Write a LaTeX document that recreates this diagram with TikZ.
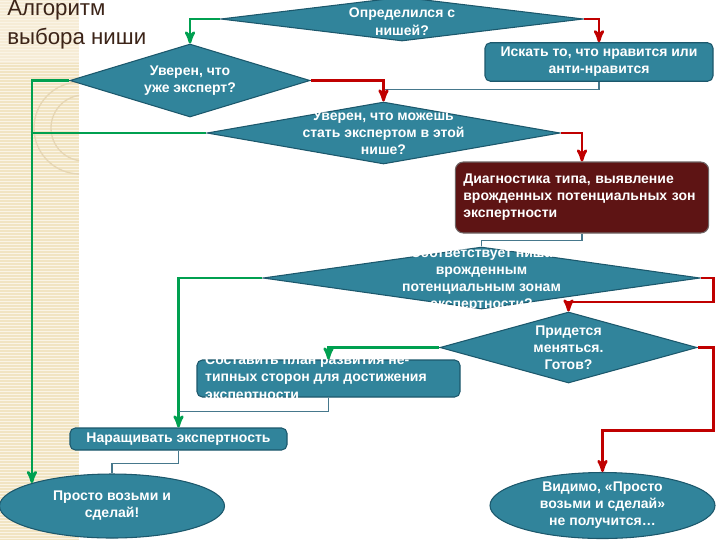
\documentclass[tikz,border=0pt]{standalone}
\usepackage{fontspec}
\setmainfont{Liberation Sans}
\usepackage{xcolor}
\usetikzlibrary{shapes.geometric, positioning, arrows}

\definecolor{aqua}{RGB}{49,132,155}
\definecolor{aquaedge}{RGB}{28,88,108}
\definecolor{maroon}{RGB}{94,20,20}
\definecolor{maroonedge}{RGB}{110,100,100}
\definecolor{yesgreen}{RGB}{0,160,80}
\definecolor{nored}{RGB}{192,0,0}
\definecolor{wire}{RGB}{70,120,140}
\definecolor{paper}{RGB}{241,228,194}
\definecolor{paperlight}{RGB}{246,236,214}
\definecolor{paperline}{RGB}{250,244,230}
\definecolor{paperring}{RGB}{230,214,180}
\definecolor{ink}{RGB}{60,36,24}

\begin{document}
\begin{tikzpicture}[x=0.75pt,y=-0.75pt,>=stealth',
    txt/.style={text=white,font=\bfseries\fontsize{10.5}{12.8}\selectfont,align=center},
    choice/.style={diamond,draw=aquaedge,fill=aqua,line width=0.8pt,inner sep=0pt},
    action/.style={rectangle,rounded corners=4pt,draw=aquaedge,fill=aqua,line width=0.8pt,txt},
    finish/.style={ellipse,draw=aquaedge,fill=aqua,line width=0.8pt,txt,inner sep=0pt},
    yes/.style={draw=yesgreen,line width=2pt},
    no/.style={draw=nored,line width=2pt},
    link/.style={draw=wire,line width=0.8pt}]
    \useasboundingbox (0,0) rectangle (720,540);

    \fill[paper] (0,0) rectangle (79,540);
    \fill[paperlight] (0,0) rectangle (79,63);
    \foreach \y in {1,4,...,540}
        \draw[paperline,line width=0.6pt] (0,\y) -- (79,\y);
    \begin{scope}
        \clip (0,63) rectangle (79,540);
        \draw[paperring,line width=1pt] (80,128) circle (46);
        \draw[paperring,line width=1pt] (84,128) circle (33);
    \end{scope}
    \node[anchor=base west,inner sep=0pt,align=left,text=ink,
          font=\fontsize{16.7}{21.75}\selectfont] (title) at (7,44) {Алгоритм\\выбора ниши};

    \node[choice,minimum width=272pt,minimum height=33pt,
          label={[txt,yshift=-2pt]center:Определился с\\нишей?}] (d1) at (402,19) {};
    \node[action,minimum width=171pt,minimum height=27pt] (b1) at (599,62)
        {Искать то, что нравится или\\анти-нравится};
    \node[choice,minimum width=180pt,minimum height=54.75pt,
          label={[txt]center:Уверен, что\\уже эксперт?}] (d2) at (190,80.5) {};
    \node[choice,minimum width=264.75pt,minimum height=46.5pt,
          label={[txt]center:Уверен, что можешь\\стать экспертом в этой\\нише?}] (d3) at (383.5,133) {};
    \node[action,fill=maroon,draw=maroonedge,align=left,text width=178pt,inner xsep=6pt,
          minimum height=53.25pt,rounded corners=6pt] (b2) at (582,197.5)
        {Диагностика типа, выявление\\врожденных потенциальных зон\\экспертности};
    \node[choice,minimum width=327.75pt,minimum height=46.5pt,
          label={[txt,yshift=-1pt]center:Соответствует ниша\\врожденным\\потенциальным зонам\\экспертности?}] (d4) at (481.5,278) {};
    \node[choice,minimum width=192.75pt,minimum height=53.25pt,
          label={[txt]center:Придется\\меняться.\\Готов?}] (d5) at (568.5,347.5) {};
    \node[action,minimum width=197.25pt,minimum height=27.75pt,
          label={[txt,align=left,anchor=west,xshift=3pt]west:Составить план развития не-\\типных сторон для достижения\\экспертности}] (b3) at (328.5,378.5) {};
    \node[action,minimum width=162.75pt,minimum height=16.5pt,inner ysep=0pt] (b4) at (178.5,439)
        {Наращивать экспертность};
    \node[finish,minimum width=168.75pt,minimum height=48pt] (e1) at (112,506)
        {Просто возьми и\\сделай!};
    \node[finish,minimum width=168.75pt,minimum height=44.25pt] (e2) at (602.5,505.5)
        {Видимо, «Просто\\возьми и сделай»\\не получится…};

    \coordinate (gx) at (e1.164);
    \draw[yes,->] (d1.west) -| (d2.north);
    \draw[no,->] (d1.east) -| (b1.north);
    \draw[link] (b1.south) |- ([yshift=9pt]d3.north);
    \draw[yes,->] (d2.west) -| (gx);
    \draw[no,->] (d2.east) -| (d3.north);
    \draw[yes] (d3.west) -- (d3.west -| gx);
    \draw[no,->] (d3.east) -| (b2.north);
    \draw[link] (b2.south) -- ++(0,7) -| (d4.north);
    \draw[yes,->] (d4.west) -| (b4.north);
    \draw[no,->] (d4.east) -| ++(13,24) -| (d5.north);
    \draw[yes,->] (d5.west) -| (b3.north);
    \draw[no,->] (d5.east) -| ++(16,83) -| (e2.north);
    \draw[link] (b3.south) |- ([yshift=12pt]b4.north);
    \draw[link] (b4.south) -- ++(0,13) -| (e1.north);
\end{tikzpicture}
\end{document}
